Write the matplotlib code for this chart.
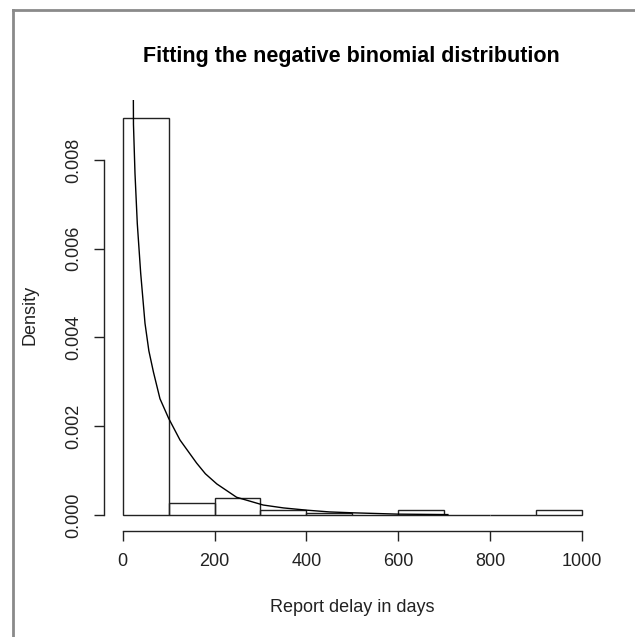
import numpy as np
import matplotlib.pyplot as plt
from matplotlib.lines import Line2D

plt.rcParams['font.family'] = ['Liberation Sans', 'DejaVu Sans']

# histogram of report delays (density per 100-day bin)
bin_left = [0, 100, 200, 300, 400, 500, 600, 700, 800, 900]
bin_width = 100
density = [0.00895, 0.000276, 0.000387, 0.00011, 0.000055, 0.0, 0.00011, 0.0, 0.0, 0.00011]

# fitted negative binomial density
curve_x = [23, 23.5, 26.8, 31.8, 39.2, 48.6, 57, 67, 81.2, 100, 124.8, 161, 180, 205, 248,
           306, 350, 400, 450, 500, 600, 708]
curve_y = [0.0100, 0.0088, 0.0077, 0.00657, 0.00545, 0.00432, 0.0037, 0.00322, 0.00262,
           0.00218, 0.00169, 0.00117, 0.00093, 0.00070, 0.00040, 0.000225, 0.00016,
           0.00011, 0.00007, 0.00005, 0.00002, 0.00001]

xticks = [0, 200, 400, 600, 800, 1000]
yticks = [0.000, 0.002, 0.004, 0.006, 0.008]

fig = plt.figure(figsize=(6.35, 6.37), dpi=100)
ax = fig.add_axes([104.3 / 635, 1 - 531 / 637, 496.1 / 635, 431.4 / 637])

ax.bar(bin_left, density, width=bin_width, align='edge', fill=False,
       edgecolor='#222222', linewidth=1.0)
ax.plot(curve_x, curve_y, color='black', linewidth=1.0)

ax.set_xlim(-40, 1040)
ax.set_ylim(-0.00036, 0.00936)

for s in ['top', 'right']:
    ax.spines[s].set_visible(False)
ax.spines['bottom'].set_bounds(0, 1000)
ax.spines['left'].set_bounds(0, 0.008)
for s in ['bottom', 'left']:
    ax.spines[s].set_color('#222222')
    ax.spines[s].set_linewidth(1.0)

ax.set_xticks(xticks)
ax.set_xticklabels([str(t) for t in xticks])
ax.set_yticks(yticks)
ax.set_yticklabels(['%.3f' % t for t in yticks], rotation=90, va='center')
ax.tick_params(axis='both', direction='out', length=7, width=1.0, color='#222222',
               labelsize=13, labelcolor='#222222')
ax.tick_params(axis='x', pad=9)
ax.tick_params(axis='y', pad=9)

ax.set_xlabel('Report delay in days', fontsize=13, color='#222222')
ax.xaxis.set_label_coords(0.5, -0.178)
ax.xaxis.label.set_va('center')
ax.set_ylabel('Density', fontsize=13, color='#222222')
ax.yaxis.set_label_coords(-0.15, 0.5)
ax.yaxis.label.set_va('center')

ax.text(0.498, 1.099, 'Fitting the negative binomial distribution', transform=ax.transAxes,
        ha='center', va='center', fontsize=15.5, fontweight='bold')

# grey frame at the top and left edge
fig.add_artist(Line2D([13 / 635, 1], [1 - 10 / 637, 1 - 10 / 637], color='#8a8a8a', linewidth=2))
fig.add_artist(Line2D([13 / 635, 13 / 635], [0, 1 - 10 / 637], color='#8a8a8a', linewidth=2))

fig.savefig('out.png', dpi=100)
